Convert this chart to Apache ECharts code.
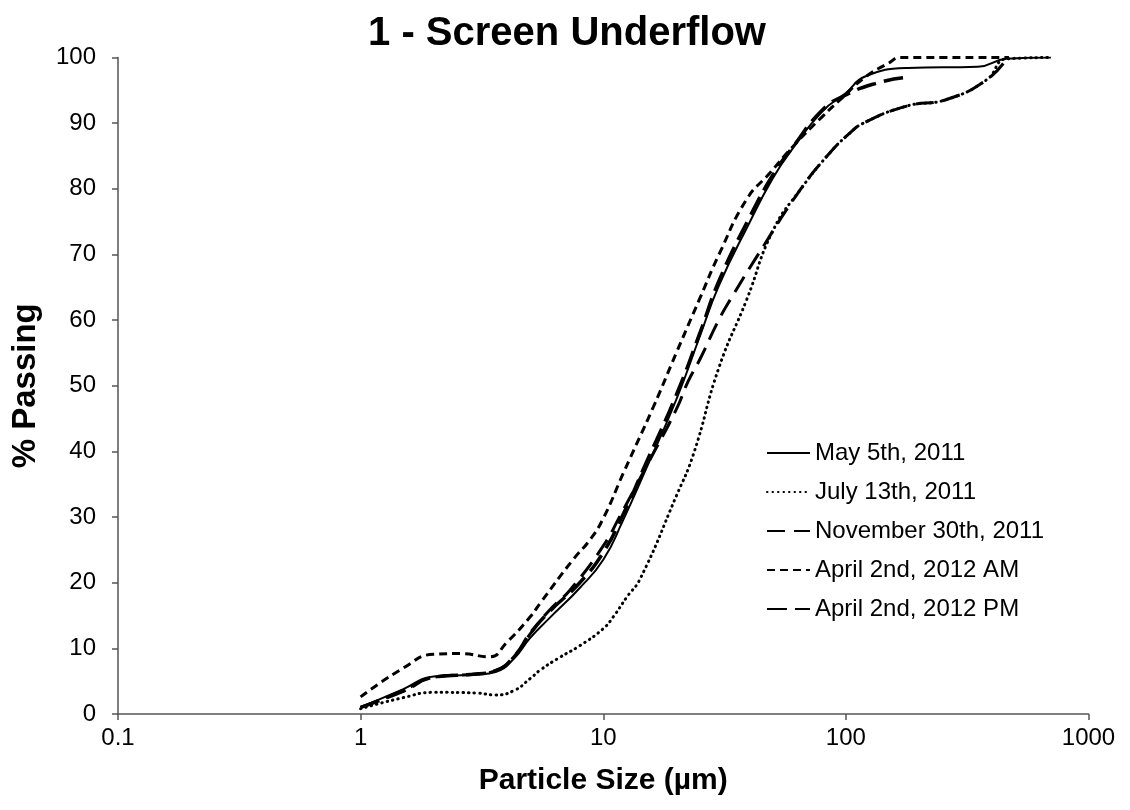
<!DOCTYPE html>
<html>
<head>
<meta charset="utf-8">
<script src="https://cdn.jsdelivr.net/npm/echarts@6/dist/echarts.min.js"></script>
<style>
html,body{margin:0;padding:0;background:#fff;}
#chart{width:1130px;height:810px;}
</style>
</head>
<body>
<div id="chart"></div>
<script>
// ---- data (particle size in µm, % passing) ----
const chartTitle = "1 - Screen Underflow";
const xTitle = "Particle Size (µm)";
const yTitle = "% Passing";
const seriesNames = ["May 5th, 2011", "July 13th, 2011", "November 30th, 2011", "April 2nd, 2012 AM", "April 2nd, 2012 PM"];

const maySize = [1, 1.5, 2, 3, 3.6, 4.3, 5, 6, 8, 10, 12, 15, 20, 25, 30, 40, 50, 60, 80, 100, 120, 180, 350, 460, 700];
const mayPass = [1.0, 3.8, 5.7, 6.0, 6.4, 8.5, 11.6, 14.6, 19.2, 23.5, 29.3, 37.3, 47.9, 57.5, 65.3, 74.8, 81.6, 86.0, 91.8, 94.6, 97.1, 98.4, 98.6, 99.8, 100];

const julySize = [1, 1.5, 2, 3, 3.6, 4.3, 5, 5.5, 6.6, 8, 10, 11, 12.5, 14.2, 20, 23.5, 30, 39, 50, 65, 86, 104, 118, 178, 260, 380, 460, 700];
const julyPass = [0.8, 2.5, 3.3, 3.2, 2.9, 3.6, 5.4, 6.7, 8.6, 10.4, 13.0, 14.8, 17.8, 20.6, 33.2, 39.5, 52.8, 63.1, 73.6, 79.9, 85.5, 88.5, 90.0, 92.6, 93.6, 96.6, 99.8, 100];

const novSize = [1, 1.5, 2, 3, 3.6, 4.3, 5, 6, 7.3, 10, 11.7, 15, 20, 22.4, 25, 30, 34, 43, 65, 86, 104, 118, 178, 260, 380, 460];
const novPass = [1.0, 3.6, 5.6, 6.1, 6.6, 8.8, 12.2, 15.8, 18.9, 25.6, 30.1, 37.6, 46.4, 50.7, 54.0, 60.1, 63.6, 69.7, 79.9, 85.5, 88.5, 90.0, 92.6, 93.6, 96.6, 99.8];

const amSize = [1, 1.5, 2, 2.6, 3.4, 4, 5, 5.5, 7.5, 8.8, 10, 12.1, 16.1, 20, 25, 30, 39, 48.6, 60, 80, 95, 120, 151, 167, 470];
const amPass = [2.6, 7.0, 9.1, 9.2, 8.7, 10.9, 14.8, 16.9, 23.5, 26.5, 29.8, 36.7, 46.8, 55.0, 63.3, 70.0, 78.4, 82.4, 86.3, 91.0, 93.6, 97.0, 99.2, 100, 100];

const pmSize = [1, 1.5, 2, 3, 3.6, 4.3, 5, 6, 8, 10, 12, 15, 20, 25, 30, 40, 50, 60, 80, 100, 134, 172];
const pmPass = [1.0, 3.5, 5.6, 6.1, 6.6, 8.8, 12.3, 15.6, 20.0, 24.6, 30.2, 38.2, 48.6, 58.0, 66.0, 75.6, 82.1, 86.2, 92.0, 94.3, 96.1, 96.9];

const xTicks = ["0.1", "1", "10", "100", "1000"];

function zip(xs, ys) { return xs.map((x, i) => [x, ys[i]]); }

const styles = [
  { width: 2, type: 'solid', cap: 'butt' },
  { width: 3, type: [0.5, 5], cap: 'round' },
  { width: 3, type: [18, 9], cap: 'butt' },
  { width: 3, type: [8, 5], cap: 'butt' },
  { width: 3.5, type: [20, 8], cap: 'butt' }
];
const datas = [zip(maySize, mayPass), zip(julySize, julyPass), zip(novSize, novPass), zip(amSize, amPass), zip(pmSize, pmPass)];

const chart = echarts.init(document.getElementById('chart'), null, { renderer: 'canvas' });
const font = '"Liberation Sans", Arial, sans-serif';
const axisColor = '#555555';

chart.setOption({
  animation: false,
  backgroundColor: '#ffffff',
  title: {
    text: chartTitle,
    left: 562, top: 9, textAlign: 'center',
    textStyle: { fontFamily: font, fontSize: 40, fontWeight: 'bold', color: '#000' }
  },
  grid: { left: 118, right: 41.5, top: 57.5, bottom: 96, containLabel: false },
  legend: {
    orient: 'vertical',
    left: 761, top: 436,
    itemWidth: 43, itemHeight: 14, itemGap: 15,
    itemStyle: { opacity: 0 },
    textStyle: { fontFamily: font, fontSize: 24, color: '#000' },
    data: seriesNames
  },
  xAxis: {
    type: 'log', logBase: 10, min: 0.1, max: 1000,
    name: xTitle, nameLocation: 'middle', nameGap: 52,
    nameTextStyle: { fontFamily: font, fontSize: 30, fontWeight: 'bold', color: '#000' },
    axisLine: { show: true, lineStyle: { color: axisColor, width: 1.5 } },
    axisTick: { show: true, inside: false, length: 6, lineStyle: { color: axisColor, width: 1.5 } },
    axisLabel: {
      fontFamily: font, fontSize: 24, color: '#000', margin: 12,
      formatter: function (v) { const i = Math.round(Math.log10(v)) + 1; return xTicks[i] !== undefined ? xTicks[i] : ''; }
    },
    splitLine: { show: false },
    minorTick: { show: false }
  },
  yAxis: {
    type: 'value', min: 0, max: 100, interval: 10,
    name: yTitle, nameLocation: 'middle', nameGap: 76, nameRotate: 90,
    nameTextStyle: { fontFamily: font, fontSize: 33, fontWeight: 'bold', color: '#000' },
    axisLine: { show: true, lineStyle: { color: axisColor, width: 1.5 } },
    axisTick: { show: true, inside: false, length: 6, lineStyle: { color: axisColor, width: 1.5 } },
    axisLabel: { fontFamily: font, fontSize: 24, color: '#000', margin: 22 },
    splitLine: { show: false }
  },
  series: seriesNames.map((n, i) => ({
    name: n,
    type: 'line',
    data: datas[i],
    smooth: 0.5,
    showSymbol: false,
    symbol: 'none',
    color: '#000',
    lineStyle: { color: '#000', width: styles[i].width, type: styles[i].type, cap: styles[i].cap }
  }))
});
</script>
</body>
</html>
